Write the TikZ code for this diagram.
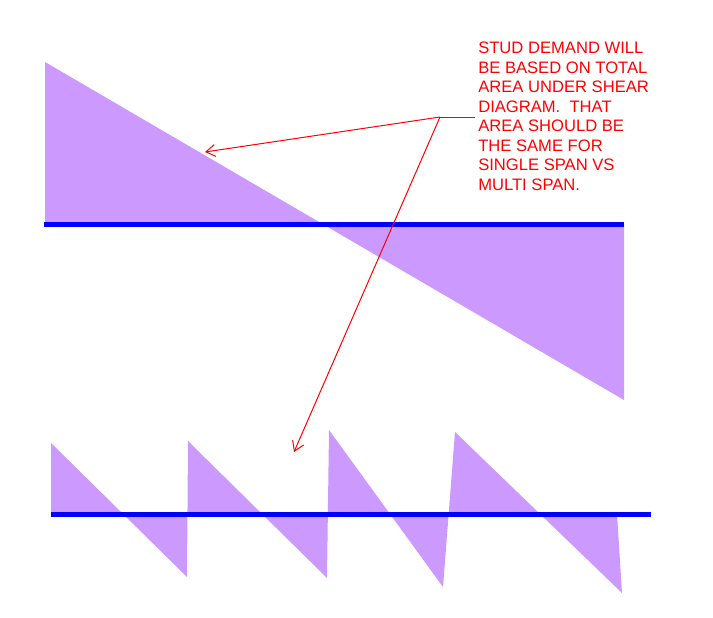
\documentclass[tikz,border=0pt]{standalone}
\usepackage{fontspec}
\setmainfont{Liberation Sans}
\usetikzlibrary{arrows.meta}
\definecolor{shear}{HTML}{CC99FF}
\definecolor{axisblue}{HTML}{0000FF}
\definecolor{notered}{HTML}{FF0000}
\tikzset{
  sheararea/.style={fill=shear, draw=none, even odd rule},
  axisline/.style={draw=axisblue, line width=3.75pt},
  leader/.style={draw=notered, line width=0.75pt},
  pointer/.style={leader, -{Straight Barb[length=7pt,width=9pt,line width=0.75pt]}},
  notetext/.style={text=notered, font=\fontsize{12.45}{14.6}\selectfont, align=left, inner sep=0pt, anchor=base west}
}
\begin{document}
\begin{tikzpicture}[x=0.75pt,y=-0.75pt]
\useasboundingbox (0,0) rectangle (713,617);
% top shear diagram
\path[sheararea] (45,224) -- (45,62) -- (624,400) -- (624,224) -- cycle;
\draw[axisline] (44,224) -- (624,224);
% bottom multi-span shear diagram
\path[sheararea] (51,514) -- (51,443) -- (187,577) -- (188,441) -- (327,578) -- (329,430)
  -- (443,587) -- (455,432) -- (622,593) -- (617,514) -- cycle;
\draw[axisline] (51,514) -- (651,514);
% note (anchored at the baseline of its last line)
\node[notetext] (note) at (478,190) {STUD DEMAND WILL\\BE BASED ON TOTAL\\AREA UNDER SHEAR\\DIAGRAM.\ \ THAT\\AREA SHOULD BE\\THE SAME FOR\\SINGLE SPAN VS\\MULTI SPAN.};
\coordinate (j) at (440,117);
\coordinate (je) at (475,117);
\coordinate (t1) at (205,152);
\coordinate (t2) at (294,452);
\draw[leader] (je) -- (j);
\draw[pointer] (j) -- (t1);
\draw[pointer] (j) -- (t2);
\end{tikzpicture}
\end{document}
